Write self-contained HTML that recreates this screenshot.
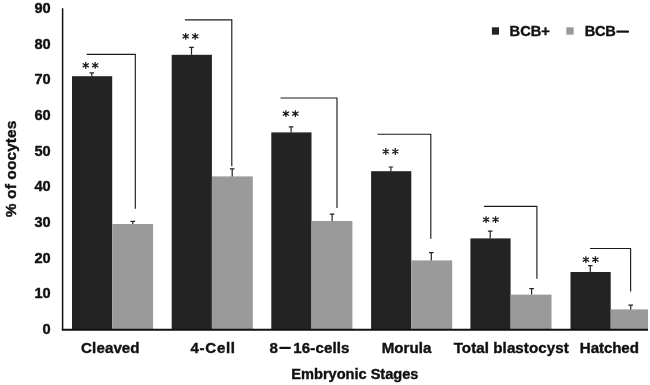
<!DOCTYPE html>
<html><head><meta charset="utf-8"><title>chart</title>
<style>
html,body{margin:0;padding:0;background:#fff;}
body{width:650px;height:385px;overflow:hidden;position:relative;font-family:"Liberation Sans",sans-serif;}
svg{position:absolute;left:0;top:0;display:block;will-change:transform;}
text{font-family:"Liberation Sans",sans-serif;font-weight:bold;fill:#111;}
</style></head><body>
<svg width="650" height="385" viewBox="0 0 650 385">
<rect x="0" y="0" width="650" height="385" fill="#fff"/>
<rect x="72.0" y="76.2" width="40.2" height="253.3" fill="#232323"/>
<rect x="112.2" y="224.0" width="40.9" height="105.5" fill="#9a9a9a"/>
<path d="M91.8 76.2V72.8M89.5 72.8H94.1" stroke="#222" stroke-width="1.2" fill="none"/>
<path d="M132.8 224.0V221.3M130.5 221.3H135.1" stroke="#222" stroke-width="1.2" fill="none"/>
<path d="M86.7 54.3H135.3V208.8" stroke="#1c1c1c" stroke-width="1.15" fill="none"/>
<path d="M85.70 61.90V68.70M82.60 63.50L88.80 67.10M82.60 67.10L88.80 63.50" stroke="#1a1a1a" stroke-width="1.25" fill="none"/>
<path d="M95.20 61.90V68.70M92.10 63.50L98.30 67.10M92.10 67.10L98.30 63.50" stroke="#1a1a1a" stroke-width="1.25" fill="none"/>
<rect x="171.7" y="54.8" width="40.2" height="274.7" fill="#232323"/>
<rect x="211.9" y="176.4" width="40.9" height="153.1" fill="#9a9a9a"/>
<path d="M191.5 54.8V47.3M189.2 47.3H193.8" stroke="#222" stroke-width="1.2" fill="none"/>
<path d="M232.2 176.4V168.8M229.9 168.8H234.5" stroke="#222" stroke-width="1.2" fill="none"/>
<path d="M185.0 19.8H231.8V166.2" stroke="#1c1c1c" stroke-width="1.15" fill="none"/>
<path d="M185.70 32.90V39.70M182.60 34.50L188.80 38.10M182.60 38.10L188.80 34.50" stroke="#1a1a1a" stroke-width="1.25" fill="none"/>
<path d="M195.20 32.90V39.70M192.10 34.50L198.30 38.10M192.10 38.10L198.30 34.50" stroke="#1a1a1a" stroke-width="1.25" fill="none"/>
<rect x="271.3" y="132.4" width="40.2" height="197.1" fill="#232323"/>
<rect x="311.5" y="221.0" width="40.9" height="108.5" fill="#9a9a9a"/>
<path d="M291.1 132.4V126.9M288.8 126.9H293.4" stroke="#222" stroke-width="1.2" fill="none"/>
<path d="M332.1 221.0V214.1M329.8 214.1H334.4" stroke="#222" stroke-width="1.2" fill="none"/>
<path d="M280.5 98.0H337.0V208.1" stroke="#1c1c1c" stroke-width="1.15" fill="none"/>
<path d="M285.85 110.30V117.10M282.75 111.90L288.95 115.50M282.75 115.50L288.95 111.90" stroke="#1a1a1a" stroke-width="1.25" fill="none"/>
<path d="M295.35 110.30V117.10M292.25 111.90L298.45 115.50M292.25 115.50L298.45 111.90" stroke="#1a1a1a" stroke-width="1.25" fill="none"/>
<rect x="371.1" y="171.2" width="40.2" height="158.3" fill="#232323"/>
<rect x="411.3" y="260.4" width="40.9" height="69.1" fill="#9a9a9a"/>
<path d="M390.9 171.2V167.0M388.6 167.0H393.2" stroke="#222" stroke-width="1.2" fill="none"/>
<path d="M431.3 260.4V252.6M429.0 252.6H433.6" stroke="#222" stroke-width="1.2" fill="none"/>
<path d="M377.5 134.2H430.8V238.8" stroke="#1c1c1c" stroke-width="1.15" fill="none"/>
<path d="M385.80 148.10V154.90M382.70 149.70L388.90 153.30M382.70 153.30L388.90 149.70" stroke="#1a1a1a" stroke-width="1.25" fill="none"/>
<path d="M395.30 148.10V154.90M392.20 149.70L398.40 153.30M392.20 153.30L398.40 149.70" stroke="#1a1a1a" stroke-width="1.25" fill="none"/>
<rect x="470.4" y="238.4" width="40.2" height="91.1" fill="#232323"/>
<rect x="510.6" y="294.6" width="40.9" height="34.9" fill="#9a9a9a"/>
<path d="M490.2 238.4V231.2M487.9 231.2H492.5" stroke="#222" stroke-width="1.2" fill="none"/>
<path d="M531.6 294.6V288.7M529.3 288.7H533.9" stroke="#222" stroke-width="1.2" fill="none"/>
<path d="M483.9 206.3H536.9V278.8" stroke="#1c1c1c" stroke-width="1.15" fill="none"/>
<path d="M486.10 216.20V223.00M483.00 217.80L489.20 221.40M483.00 221.40L489.20 217.80" stroke="#1a1a1a" stroke-width="1.25" fill="none"/>
<path d="M495.60 216.20V223.00M492.50 217.80L498.70 221.40M492.50 221.40L498.70 217.80" stroke="#1a1a1a" stroke-width="1.25" fill="none"/>
<rect x="570.5" y="272.0" width="40.2" height="57.5" fill="#232323"/>
<rect x="610.7" y="309.4" width="37.3" height="20.1" fill="#9a9a9a"/>
<path d="M590.3 272.0V265.7M588.0 265.7H592.6" stroke="#222" stroke-width="1.2" fill="none"/>
<path d="M630.7 309.4V305.1M628.4 305.1H633.0" stroke="#222" stroke-width="1.2" fill="none"/>
<path d="M590.0 248.5H630.6V291.6" stroke="#1c1c1c" stroke-width="1.15" fill="none"/>
<path d="M585.90 256.20V263.00M582.80 257.80L589.00 261.40M582.80 261.40L589.00 257.80" stroke="#1a1a1a" stroke-width="1.25" fill="none"/>
<path d="M595.40 256.20V263.00M592.30 257.80L598.50 261.40M592.30 261.40L598.50 257.80" stroke="#1a1a1a" stroke-width="1.25" fill="none"/>
<path d="M62.6 8.3V330.2" stroke="#111" stroke-width="1.5" fill="none"/>
<path d="M61.8 329.75H648" stroke="#111" stroke-width="1.9" fill="none"/>
<text x="50.7" y="334.05" font-size="14.6" text-anchor="end" stroke="#111" stroke-width="0.4">0</text>
<text x="50.7" y="298.38" font-size="14.6" text-anchor="end" stroke="#111" stroke-width="0.4">10</text>
<text x="50.7" y="262.71" font-size="14.6" text-anchor="end" stroke="#111" stroke-width="0.4">20</text>
<text x="50.7" y="227.04" font-size="14.6" text-anchor="end" stroke="#111" stroke-width="0.4">30</text>
<text x="50.7" y="191.37" font-size="14.6" text-anchor="end" stroke="#111" stroke-width="0.4">40</text>
<text x="50.7" y="155.70" font-size="14.6" text-anchor="end" stroke="#111" stroke-width="0.4">50</text>
<text x="50.7" y="120.03" font-size="14.6" text-anchor="end" stroke="#111" stroke-width="0.4">60</text>
<text x="50.7" y="84.36" font-size="14.6" text-anchor="end" stroke="#111" stroke-width="0.4">70</text>
<text x="50.7" y="48.69" font-size="14.6" text-anchor="end" stroke="#111" stroke-width="0.4">80</text>
<text x="50.7" y="13.02" font-size="14.6" text-anchor="end" stroke="#111" stroke-width="0.4">90</text>
<text x="81.10" y="352.60" font-size="15.1" letter-spacing="0.100" stroke="#111" stroke-width="0.4" >Cleaved</text>
<text x="190.50" y="352.60" font-size="15.1" letter-spacing="0.690" stroke="#111" stroke-width="0.4" >4-Cell</text>
<text x="269.55" y="352.60" font-size="15.1" letter-spacing="0.000" stroke="#111" stroke-width="0.4" >8</text>
<text x="293.35" y="352.60" font-size="15.1" letter-spacing="0.107" stroke="#111" stroke-width="0.4" >16-cells</text>
<text x="381.75" y="352.60" font-size="15.1" letter-spacing="0.020" stroke="#111" stroke-width="0.4" >Morula</text>
<text x="453.70" y="352.60" font-size="15.1" letter-spacing="0.083" stroke="#111" stroke-width="0.4" >Total blastocyst</text>
<text x="579.85" y="352.60" font-size="15.1" letter-spacing="-0.083" stroke="#111" stroke-width="0.4" >Hatched</text>
<text x="291.35" y="379.20" font-size="14.6" letter-spacing="-0.017" stroke="#111" stroke-width="0.4" >Embryonic Stages</text>
<g transform="translate(15.5,216.9) rotate(-90)"><text x="-0.25" y="0.00" font-size="15.5" letter-spacing="0.091" stroke="#111" stroke-width="0.4" >% of oocytes</text>
</g>
<rect x="491.9" y="27.3" width="7.1" height="7.4" fill="#232323"/>
<text x="509.55" y="35.70" font-size="14.6" letter-spacing="0.067" stroke="#111" stroke-width="0.4" >BCB+</text>
<rect x="566.3" y="27.3" width="7.4" height="7.4" fill="#9a9a9a"/>
<text x="584.75" y="35.70" font-size="14.6" letter-spacing="-0.250" stroke="#111" stroke-width="0.4" >BCB</text>
<rect x="616.4" y="30.5" width="12.5" height="2.2" fill="#111"/>
<rect x="279.4" y="346.8" width="11.3" height="2.2" fill="#111"/>
</svg></body></html>
